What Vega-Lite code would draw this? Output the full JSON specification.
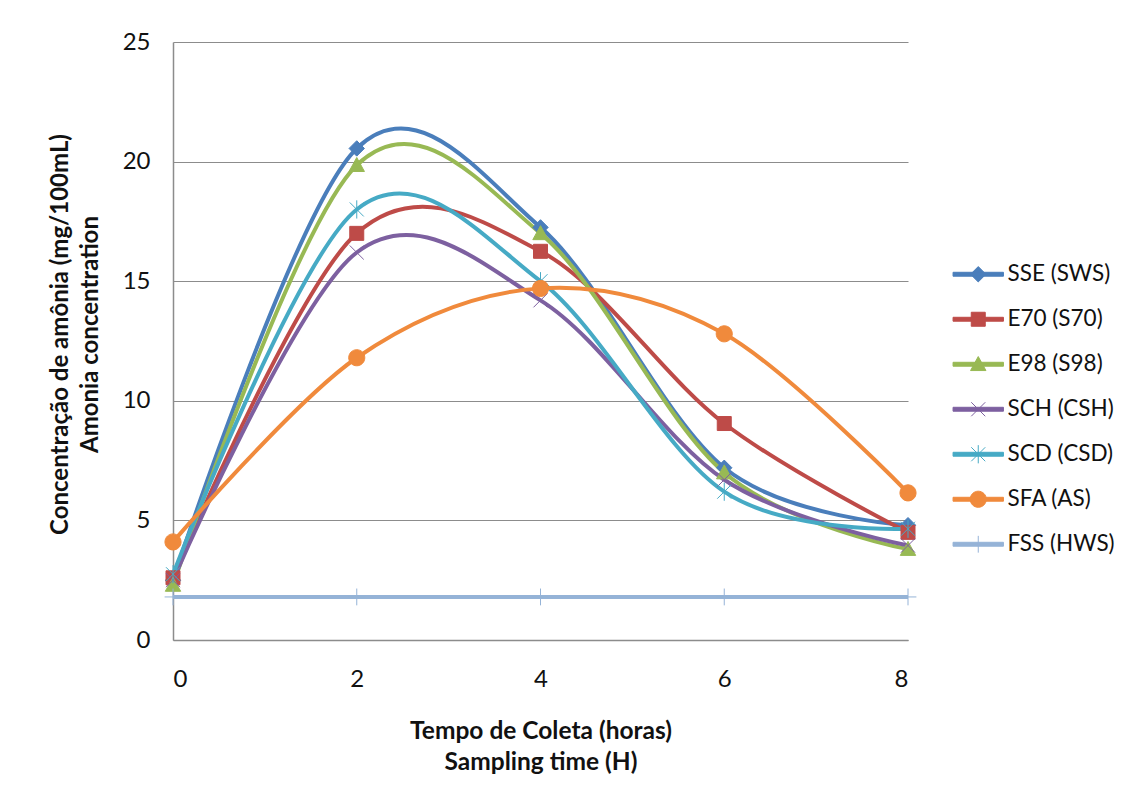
{
  "$schema": "https://vega.github.io/schema/vega-lite/v6.json",
  "width": 735,
  "height": 598,
  "autosize": "none",
  "padding": {"left": 173, "top": 42, "right": 220, "bottom": 161},
  "background": "white",
  "config": {
    "view": {"stroke": null},
    "font": "Lato",
    "axis": {"labelFont": "Lato", "titleFont": "Lato"},
    "legend": {"labelFont": "Lato"}
  },
  "data": {
    "values": [
      {"series": "SSE (SWS)", "time": 0, "value": 2.5},
      {"series": "SSE (SWS)", "time": 2, "value": 20.55},
      {"series": "SSE (SWS)", "time": 4, "value": 17.25},
      {"series": "SSE (SWS)", "time": 6, "value": 7.2},
      {"series": "SSE (SWS)", "time": 8, "value": 4.8},
      {"series": "E70 (S70)", "time": 0, "value": 2.6},
      {"series": "E70 (S70)", "time": 2, "value": 17.0},
      {"series": "E70 (S70)", "time": 4, "value": 16.25},
      {"series": "E70 (S70)", "time": 6, "value": 9.05},
      {"series": "E70 (S70)", "time": 8, "value": 4.5},
      {"series": "E98 (S98)", "time": 0, "value": 2.3},
      {"series": "E98 (S98)", "time": 2, "value": 19.85},
      {"series": "E98 (S98)", "time": 4, "value": 17.0},
      {"series": "E98 (S98)", "time": 6, "value": 7.0},
      {"series": "E98 (S98)", "time": 8, "value": 3.8},
      {"series": "SCH (CSH)", "time": 0, "value": 2.5},
      {"series": "SCH (CSH)", "time": 2, "value": 16.2},
      {"series": "SCH (CSH)", "time": 4, "value": 14.2},
      {"series": "SCH (CSH)", "time": 6, "value": 6.7},
      {"series": "SCH (CSH)", "time": 8, "value": 3.95},
      {"series": "SCD (CSD)", "time": 0, "value": 2.75},
      {"series": "SCD (CSD)", "time": 2, "value": 18.0},
      {"series": "SCD (CSD)", "time": 4, "value": 15.0},
      {"series": "SCD (CSD)", "time": 6, "value": 6.2},
      {"series": "SCD (CSD)", "time": 8, "value": 4.65},
      {"series": "SFA (AS)", "time": 0, "value": 4.1},
      {"series": "SFA (AS)", "time": 2, "value": 11.8},
      {"series": "SFA (AS)", "time": 4, "value": 14.7},
      {"series": "SFA (AS)", "time": 6, "value": 12.8},
      {"series": "SFA (AS)", "time": 8, "value": 6.15},
      {"series": "FSS (HWS)", "time": 0, "value": 1.8},
      {"series": "FSS (HWS)", "time": 2, "value": 1.8},
      {"series": "FSS (HWS)", "time": 4, "value": 1.8},
      {"series": "FSS (HWS)", "time": 6, "value": 1.8},
      {"series": "FSS (HWS)", "time": 8, "value": 1.8}
    ]
  },
  "encoding": {
    "x": {
      "field": "time",
      "type": "quantitative",
      "scale": {"domain": [0, 8], "nice": false, "zero": false},
      "axis": {
        "values": [0, 2, 4, 6, 8],
        "grid": false,
        "ticks": false,
        "domainColor": "#8c8c8c",
        "domainWidth": 1.5,
        "labelFontSize": 24,
        "labelColor": "#111",
        "labelPadding": 27,
        "title": ["Tempo de Coleta (horas)", "Sampling time (H)"],
        "titleFontSize": 24.5,
        "titleFontWeight": "bold",
        "titleColor": "#111",
        "titleBaseline": "middle",
        "titleLineHeight": 31,
        "titleY": 91
      }
    },
    "y": {
      "field": "value",
      "type": "quantitative",
      "scale": {"domain": [0, 25], "nice": false},
      "axis": {
        "values": [0, 5, 10, 15, 20, 25],
        "grid": true,
        "gridColor": "#8c8c8c",
        "gridWidth": 1,
        "ticks": false,
        "domainColor": "#8c8c8c",
        "domainWidth": 1.5,
        "labelFontSize": 24,
        "labelColor": "#111",
        "labelPadding": 23,
        "title": ["Concentração de amônia (mg/100mL)", "Amonia concentration"],
        "titleFontSize": 24,
        "titleFontWeight": "bold",
        "titleColor": "#111",
        "titleAngle": -90,
        "titleBaseline": "middle",
        "titleLineHeight": 30,
        "titleX": -113,
        "titleY": 292
      }
    }
  },
  "layer": [
    {
      "mark": {"type": "line", "interpolate": "cardinal", "tension": 0, "strokeWidth": 4},
      "encoding": {
        "color": {
          "field": "series",
          "type": "nominal",
          "sort": null,
          "scale": {
            "domain": ["SSE (SWS)", "E70 (S70)", "E98 (S98)", "SCH (CSH)", "SCD (CSD)", "SFA (AS)", "FSS (HWS)"],
            "range": ["#4A7EBB", "#BE4B48", "#98B954", "#7D60A0", "#46AAC5", "#F08A3C", "#95B3D7"]
          },
          "legend": {
            "title": null,
            "orient": "none",
            "legendX": 794,
            "legendY": 221,
            "padding": 0,
            "symbolSize": 196,
            "symbolStrokeWidth": 1,
            "labelFontSize": 22.5,
            "labelColor": "#111",
            "labelOffset": 18,
            "rowPadding": 22,
            "encode": {
              "symbols": {
                "update": {
                  "shape": {"signal": "datum.value === 'SSE (SWS)' ? 'M-3.6,-0.28H3.6V0.28H-3.6Z M-1.1,0L0,-1.1L1.1,0L0,1.1Z' : datum.value === 'E70 (S70)' ? 'M-3.6,-0.28H3.6V0.28H-3.6Z M-1,-1H1V1H-1Z' : datum.value === 'E98 (S98)' ? 'M-3.6,-0.28H3.6V0.28H-3.6Z M0,-1.1L1.1,0.9L-1.1,0.9Z' : datum.value === 'SCH (CSH)' ? 'M-3.6,-0.28H3.6V0.28H-3.6Z M-1,-1L1,1M-1,1L1,-1' : datum.value === 'SCD (CSD)' ? 'M-3.6,-0.28H3.6V0.28H-3.6Z M-1,-1L1,1M-1,1L1,-1M0,-1.3L0,1.3' : datum.value === 'SFA (AS)' ? 'M-3.6,-0.28H3.6V0.28H-3.6Z M-1.15,0A1.15,1.15 0 1,1 1.15,0A1.15,1.15 0 1,1 -1.15,0Z' : 'M-3.6,-0.28H3.6V0.28H-3.6Z M0,-1.2L0,1.2'"},
                  "fill": {"scale": "color", "field": "value"},
                  "stroke": {"scale": "color", "field": "value"},
                  "strokeWidth": {"value": 1},
                  "opacity": {"value": 1}
                }
              }
            }
          }
        }
      }
    },
    {
      "mark": {
        "type": "point",
        "filled": true,
        "size": 196,
        "opacity": 1,
        "strokeWidth": 1,
        "stroke": {"expr": "scale('color', datum.series)"},
        "shape": {"expr": "datum.series === 'SSE (SWS)' ? 'M-1.1,0L0,-1.1L1.1,0L0,1.1Z' : datum.series === 'E70 (S70)' ? 'M-1,-1H1V1H-1Z' : datum.series === 'E98 (S98)' ? 'M0,-1.1L1.1,0.9L-1.1,0.9Z' : datum.series === 'SCH (CSH)' ? 'M-1,-1L1,1M-1,1L1,-1' : datum.series === 'SCD (CSD)' ? 'M-1,-1L1,1M-1,1L1,-1M0,-1.3L0,1.3' : datum.series === 'SFA (AS)' ? 'M-1.15,0A1.15,1.15 0 1,1 1.15,0A1.15,1.15 0 1,1 -1.15,0Z' : 'M0,-1.2L0,1.2M-1.2,0L1.2,0'"}
      },
      "encoding": {
        "color": {
          "field": "series",
          "type": "nominal",
          "sort": null,
          "legend": null
        }
      }
    }
  ]
}
